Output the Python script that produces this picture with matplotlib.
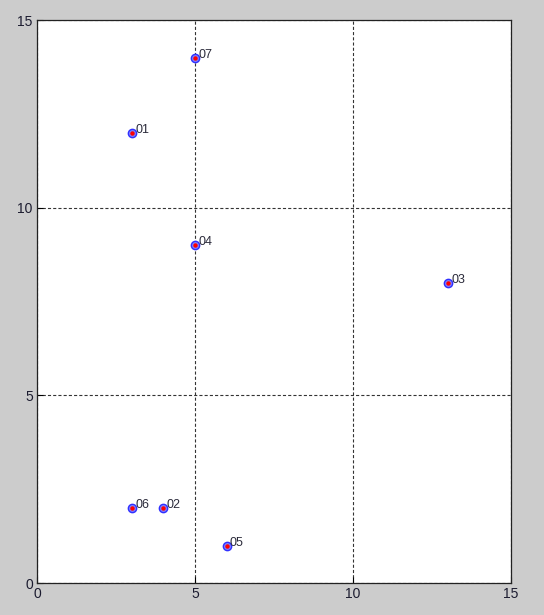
import matplotlib
matplotlib.use('Agg')
import matplotlib.pyplot as plt

# node coordinates and their ids
names = ['01', '02', '03', '04', '05', '06', '07']
xs = [3, 4, 13, 5, 6, 3, 5]
ys = [12, 2, 8, 9, 1, 2, 14]
ticks = [0, 5, 10, 15]

plt.rcParams['font.family'] = ['Liberation Sans', 'DejaVu Sans']

fig = plt.figure(figsize=(5.44, 6.15), dpi=100, facecolor='#cccccc')
ax = fig.add_axes([0.068, 0.052, 0.871, 0.915])
ax.set_facecolor('white')

# blue ring with a red dot in the middle
ax.plot(xs, ys, linestyle='none', marker='o', markersize=6,
        markeredgecolor='#3030ff', markerfacecolor='#8080ff', markeredgewidth=1.0, zorder=3)
ax.plot(xs, ys, linestyle='none', marker='o', markersize=3.2,
        markeredgecolor='red', markerfacecolor='red', markeredgewidth=0, zorder=4)
for name, x, y in zip(names, xs, ys):
    ax.annotate(name, (x, y), xytext=(2.5, 0), textcoords='offset points',
                va='baseline', ha='left', fontsize=9, color='#2a2a3a')

ax.set_xlim(0, 15)
ax.set_ylim(0, 15)
ax.set_xticks(ticks)
ax.set_yticks(ticks)
ax.grid(True, linestyle=(0, (2.8, 1.9)), color='#333333', linewidth=0.8)
ax.tick_params(direction='in', length=4, labelsize=10, labelcolor='#1c1c30', pad=3)
for s in ax.spines.values():
    s.set_linewidth(0.9)
    s.set_color('#222222')

fig.savefig('out.png', dpi=100, facecolor=fig.get_facecolor())
